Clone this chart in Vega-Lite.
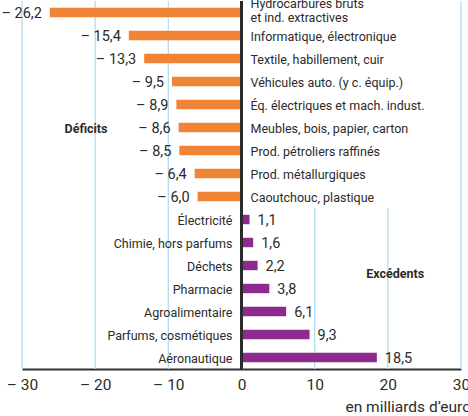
{
  "$schema": "https://vega.github.io/schema/vega-lite/v6.json",
  "width": 439,
  "height": 368,
  "autosize": "none",
  "padding": {"left": 22, "top": 1, "right": 7, "bottom": 47},
  "config": {
    "view": {"stroke": null},
    "font": "Roboto",
    "text": {"font": "Roboto", "color": "#2b2b2b"},
    "axisX": {
      "domainColor": "#333333",
      "domainWidth": 2,
      "ticks": false,
      "tickSize": 0,
      "grid": false,
      "labelFont": "Roboto",
      "labelFontSize": 15.5,
      "labelColor": "#2b2b2b",
      "labelPadding": 8,
      "labelFlush": false,
      "labelOverlap": false,
      "titleFont": "Roboto",
      "titleFontSize": 15.5,
      "titleFontWeight": "normal",
      "titleColor": "#2b2b2b"
    }
  },
  "layer": [
    {
      "data": {
        "values": [
          {"x": -30, "y0": 0, "y1": 16},
          {"x": -20, "y0": 0, "y1": 16},
          {"x": -10, "y0": 0, "y1": 16},
          {"x": 10, "y0": 0, "y1": 7},
          {"x": 20, "y0": 0, "y1": 7},
          {"x": 30, "y0": 0, "y1": 16}
        ]
      },
      "mark": {"type": "rule", "color": "#b3dcf2", "strokeWidth": 1.3},
      "encoding": {
        "x": {"field": "x", "type": "quantitative", "scale": {"domain": [-30, 30], "nice": false}},
        "y": {"field": "y0", "type": "quantitative", "scale": {"domain": [0, 16], "nice": false, "zero": false}, "axis": null},
        "y2": {"field": "y1"}
      }
    },
    {
      "data": {
        "values": [
          {"texte": "Déficits", "x": -21.25, "y": 10.43},
          {"texte": "Excédents", "x": 21, "y": 4.13}
        ]
      },
      "mark": {"type": "text", "fontWeight": "bold", "fontSize": 12.5, "align": "center", "baseline": "middle"},
      "encoding": {
        "x": {"field": "x", "type": "quantitative"},
        "y": {"field": "y", "type": "quantitative", "scale": {"domain": [0, 16], "nice": false, "zero": false}, "axis": null},
        "text": {"field": "texte"}
      }
    },
    {
      "data": {
        "values": [
          {"secteur": "Hydrocarbures bruts\net ind. extractives", "valeur": -26.2},
          {"secteur": "Informatique, électronique", "valeur": -15.4},
          {"secteur": "Textile, habillement, cuir", "valeur": -13.3},
          {"secteur": "Véhicules auto. (y c. équip.)", "valeur": -9.5},
          {"secteur": "Éq. électriques et mach. indust.", "valeur": -8.9},
          {"secteur": "Meubles, bois, papier, carton", "valeur": -8.6},
          {"secteur": "Prod. pétroliers raffinés", "valeur": -8.5},
          {"secteur": "Prod. métallurgiques", "valeur": -6.4},
          {"secteur": "Caoutchouc, plastique", "valeur": -6.0},
          {"secteur": "Électricité", "valeur": 1.1},
          {"secteur": "Chimie, hors parfums", "valeur": 1.6},
          {"secteur": "Déchets", "valeur": 2.2},
          {"secteur": "Pharmacie", "valeur": 3.8},
          {"secteur": "Agroalimentaire", "valeur": 6.1},
          {"secteur": "Parfums, cosmétiques", "valeur": 9.3},
          {"secteur": "Aéronautique", "valeur": 18.5}
        ]
      },
      "transform": [
        {"calculate": "(datum.valeur < 0 ? '– ' : '') + replace(format(abs(datum.valeur), '.1f'), '.', ',')", "as": "etiquette"}
      ],
      "encoding": {
        "y": {
          "field": "secteur",
          "type": "nominal",
          "sort": null,
          "axis": null,
          "scale": {"paddingInner": 0.59, "paddingOuter": 0.295}
        }
      },
      "layer": [
        {
          "mark": {"type": "bar"},
          "encoding": {
            "x": {
              "field": "valeur",
              "type": "quantitative",
              "scale": {"domain": [-30, 30], "nice": false},
              "axis": {
                "values": [-30, -20, -10, 0, 10, 20, 30],
                "labelExpr": "datum.value < 0 ? '– ' + abs(datum.value) : '' + datum.value",
                "title": "en milliards d’euros",
                "titleAnchor": null,
                "titleAlign": "left",
                "titleBaseline": "middle",
                "titleX": 323,
                "titleY": 37
              }
            },
            "color": {
              "condition": {"test": "datum.valeur < 0", "value": "#f08336"},
              "value": "#8d2a8e"
            }
          }
        },
        {
          "mark": {"type": "rule", "color": "#2b2b2b", "strokeWidth": 2},
          "encoding": {
            "x": {"datum": 0, "type": "quantitative"},
            "y": null
          }
        },
        {
          "transform": [{"filter": "datum.valeur < 0"}],
          "mark": {"type": "text", "align": "right", "baseline": "middle", "dx": -8, "dy": 1.5, "fontSize": 14.5},
          "encoding": {
            "x": {"field": "valeur", "type": "quantitative"},
            "text": {"field": "etiquette"}
          }
        },
        {
          "transform": [{"filter": "datum.valeur > 0"}],
          "mark": {"type": "text", "align": "left", "baseline": "middle", "dx": 8, "dy": 1.5, "fontSize": 14.5},
          "encoding": {
            "x": {"field": "valeur", "type": "quantitative"},
            "text": {"field": "etiquette"}
          }
        },
        {
          "transform": [{"filter": "datum.valeur < 0 && datum.valeur > -20"}],
          "mark": {"type": "text", "align": "left", "baseline": "middle", "dx": 9, "dy": 1, "fontSize": 12.5},
          "encoding": {
            "x": {"datum": 0, "type": "quantitative"},
            "text": {"field": "secteur"}
          }
        },
        {
          "transform": [{"filter": "datum.valeur <= -20"}],
          "mark": {"type": "text", "align": "left", "baseline": "middle", "dx": 9, "dy": -8.5, "fontSize": 12.5, "lineBreak": "\n", "lineHeight": 14},
          "encoding": {
            "x": {"datum": 0, "type": "quantitative"},
            "text": {"field": "secteur"}
          }
        },
        {
          "transform": [{"filter": "datum.valeur > 0"}],
          "mark": {"type": "text", "align": "right", "baseline": "middle", "dx": -9, "dy": 1, "fontSize": 12.5},
          "encoding": {
            "x": {"datum": 0, "type": "quantitative"},
            "text": {"field": "secteur"}
          }
        }
      ]
    }
  ],
  "resolve": {"scale": {"y": "independent"}}
}
